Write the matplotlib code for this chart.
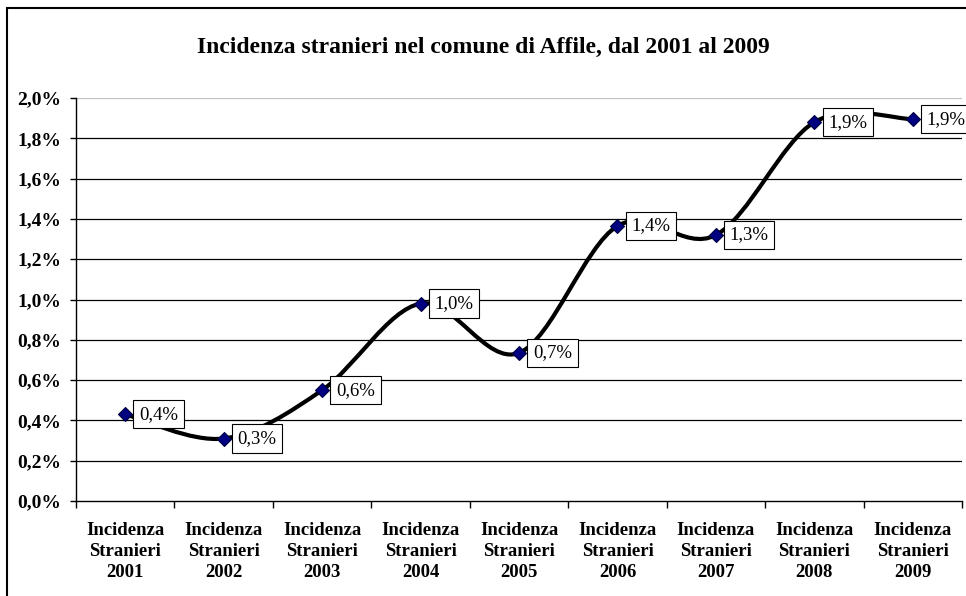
import matplotlib.pyplot as plt
import numpy as np
from matplotlib.path import Path
from matplotlib.patches import PathPatch, Rectangle

# data (percent)
years = ['2001', '2002', '2003', '2004', '2005', '2006', '2007', '2008', '2009']
values = [0.43, 0.31, 0.55, 0.98, 0.735, 1.365, 1.32, 1.88, 1.895]
labels = ['0,4%', '0,3%', '0,6%', '1,0%', '0,7%', '1,4%', '1,3%', '1,9%', '1,9%']
yticks = [0.0, 0.2, 0.4, 0.6, 0.8, 1.0, 1.2, 1.4, 1.6, 1.8, 2.0]

plt.rcParams['font.family'] = ['Liberation Serif', 'DejaVu Serif']

W, H = 966, 596
fig = plt.figure(figsize=(W / 100, H / 100), dpi=100)
ax = fig.add_axes([76 / W, 1 - 501 / H, (962 - 76) / W, (501 - 98) / H])

# outer chart border
fig.patches.append(Rectangle((7 / W, -0.1), 1.2, 1 - 8 / H + 0.1, transform=fig.transFigure,
                             fill=False, edgecolor='black', linewidth=1.5))

x = np.arange(len(years))
y = np.array(values)

# smoothed line like excel: cubic bezier with control points from neighbours
pts = np.column_stack([x, y])
verts = [tuple(pts[0])]
codes = [Path.MOVETO]
for i in range(len(pts) - 1):
    p0 = pts[i - 1] if i > 0 else pts[i]
    p1 = pts[i]
    p2 = pts[i + 1]
    p3 = pts[i + 2] if i + 2 < len(pts) else pts[i + 1]
    c1 = p1 + (p2 - p0) / 6
    c2 = p2 - (p3 - p1) / 6
    verts += [tuple(c1), tuple(c2), tuple(p2)]
    codes += [Path.CURVE4] * 3
ax.add_patch(PathPatch(Path(verts, codes), facecolor='none', edgecolor='black', linewidth=3, zorder=3))

ax.plot(x, y, linestyle='none', marker='D', markersize=7, markerfacecolor='#000080',
        markeredgecolor='#000040', markeredgewidth=0.8, zorder=4)

for xi, yi, lab in zip(x, y, labels):
    ax.annotate(lab, (xi, yi), xytext=(10, 0), textcoords='offset points', ha='left', va='center',
                fontsize=13.5, zorder=5,
                bbox=dict(boxstyle='square,pad=0.3', facecolor='white', edgecolor='black', linewidth=0.8))

ax.set_xlim(-0.5, len(years) - 0.5)
ax.set_ylim(0, 2.0)
ax.set_yticks(yticks)
ax.set_yticklabels([('%.1f%%' % v).replace('.', ',') for v in yticks], fontsize=14, fontweight='bold')
for v in yticks[1:]:
    ax.axhline(v, color='black' if v < 2.0 else '#c0c0c0', linewidth=0.9, zorder=1)

ax.set_xticks(x)
ax.set_xticklabels(['Incidenza\nStranieri\n' + yr for yr in years], fontsize=13.5, fontweight='bold',
                   linespacing=1.3)
ax.set_xticks(np.arange(-0.5, len(years)), minor=True)
ax.tick_params(axis='x', which='major', length=0, pad=15)
ax.tick_params(axis='x', which='minor', length=5, direction='out', width=1)
ax.tick_params(axis='y', length=4.5, direction='out', width=1, pad=6)

for s in ['top', 'right']:
    ax.spines[s].set_visible(False)
ax.spines['left'].set_linewidth(1)
ax.spines['bottom'].set_linewidth(1)

fig.text(483 / W, 1 - 47 / H, 'Incidenza stranieri nel comune di Affile, dal 2001 al 2009',
         ha='center', va='center', fontsize=17, fontweight='bold')

fig.savefig('out.png', dpi=100)
